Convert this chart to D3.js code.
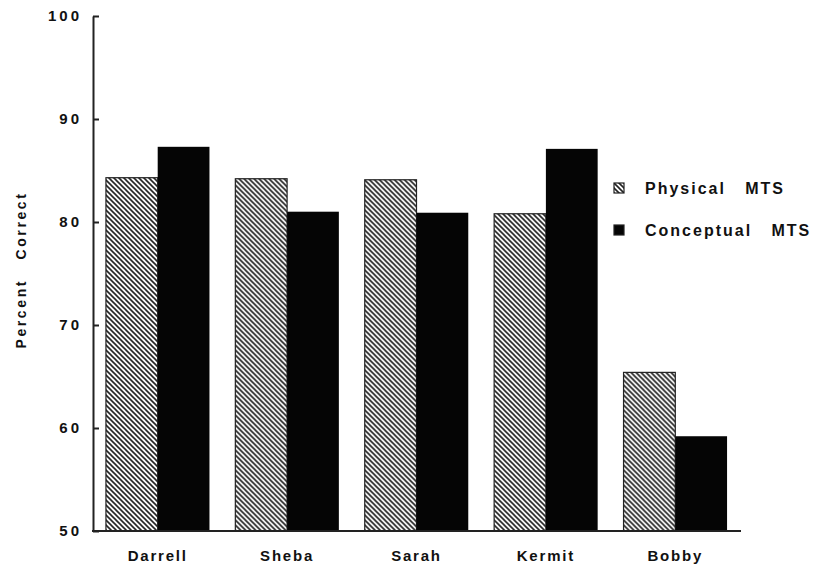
<!DOCTYPE html>
<html>
<head>
<meta charset="utf-8">
<style>
    body { margin: 0; background: #fff; }
    svg { display: block; font-family: Arial, 'Liberation Sans', sans-serif; }
    .axis .domain { stroke: #222; stroke-width: 2; }
    .axis .tick line { stroke: #222; stroke-width: 2; }
    .y .tick text { font-size: 15px; font-weight: bold; fill: #111; letter-spacing: 3px; }
    .x-label { font-size: 15px; font-weight: bold; fill: #111; letter-spacing: 1.8px; }
    .axis-title { font-size: 14px; font-weight: bold; fill: #111; letter-spacing: 2.6px; }
    .legend-label { font-size: 16px; font-weight: bold; fill: #111; letter-spacing: 2px; }
</style>
</head>
<body>
<svg width="817" height="570"></svg>
<script src="https://d3js.org/d3.v7.min.js"></script>
<script>
    // values
    let subjects = ["Darrell", "Sheba", "Sarah", "Kermit", "Bobby"]
    let physical = [84.3, 84.2, 84.1, 80.8, 65.4]
    let conceptual = [87.3, 81.0, 80.9, 87.1, 59.2]
    let seriesNames = ["Physical   MTS", "Conceptual   MTS"]
    let yTicks = [50, 60, 70, 80, 90, 100]

    let svg = d3.select("svg")

    // diagonal hatch for the physical bars
    let defs = svg.append("defs")
    let pat = defs.append("pattern")
        .attr("id", "hatch")
        .attr("patternUnits", "userSpaceOnUse")
        .attr("width", 5)
        .attr("height", 5)
    pat.append("rect").attr("width", 5).attr("height", 5).attr("fill", "#fff")
    pat.append("path")
        .attr("d", "M-1,-1 L6,6 M-6,-1 L1,6 M4,-1 L11,6")
        .attr("stroke", "#222")
        .attr("stroke-width", 1.6)

    let y = d3.scaleLinear()
        .domain([50, 100])
        .range([531, 16])

    let x = d3.scaleBand()
        .domain(subjects)
        .range([93, 740])
        .paddingInner(0.2)
        .paddingOuter(0.1)

    let inner = d3.scaleBand()
        .domain(["physical", "conceptual"])
        .range([0, x.bandwidth()])

    let rows = subjects.map((s, i) => ({ name: s, physical: physical[i], conceptual: conceptual[i] }))

    let groups = svg.append("g").selectAll("g")
        .data(rows)
        .join("g")
        .attr("transform", d => `translate(${x(d.name)},0)`)

    groups.append("rect")
        .attr("x", inner("physical"))
        .attr("y", d => y(d.physical))
        .attr("width", inner.bandwidth())
        .attr("height", d => y(50) - y(d.physical))
        .attr("fill", "url(#hatch)")
        .attr("stroke", "#222")
        .attr("stroke-width", 1.2)

    groups.append("rect")
        .attr("x", inner("conceptual"))
        .attr("y", d => y(d.conceptual))
        .attr("width", inner.bandwidth())
        .attr("height", d => y(50) - y(d.conceptual))
        .attr("fill", "#050505")

    // y axis, ticks pointing inward
    svg.append("g")
        .attr("class", "y axis")
        .attr("transform", "translate(93,0)")
        .call(d3.axisRight(y).tickValues(yTicks).tickSize(6).tickSizeOuter(0).tickFormat(d3.format("d")))
        .call(g => g.selectAll(".tick text")
            .attr("text-anchor", "end")
            .attr("x", -11))

    // x axis line
    svg.append("line")
        .attr("x1", 92).attr("x2", 741)
        .attr("y1", y(50)).attr("y2", y(50))
        .attr("stroke", "#222")
        .attr("stroke-width", 2)

    svg.append("g").selectAll("text")
        .data(subjects)
        .join("text")
        .attr("class", "x-label")
        .attr("x", d => x(d) + x.bandwidth() / 2)
        .attr("y", 561)
        .attr("text-anchor", "middle")
        .text(d => d)

    svg.append("text")
        .attr("class", "axis-title")
        .attr("transform", "translate(26,270) rotate(-90)")
        .attr("text-anchor", "middle")
        .style("white-space", "pre")
        .text("Percent   Correct")

    // legend
    let legend = svg.append("g").attr("transform", "translate(614,183)")
    let lg = legend.selectAll("g")
        .data(seriesNames)
        .join("g")
        .attr("transform", (d, i) => `translate(0,${i * 42})`)
    lg.append("rect")
        .attr("width", 10)
        .attr("height", 10)
        .attr("fill", (d, i) => i == 0 ? "url(#hatch)" : "#050505")
        .attr("stroke", "#222")
        .attr("stroke-width", 1.2)
    lg.append("text")
        .attr("class", "legend-label")
        .attr("x", 31)
        .attr("y", 11)
        .style("white-space", "pre")
        .text(d => d)
</script>
</body>
</html>
